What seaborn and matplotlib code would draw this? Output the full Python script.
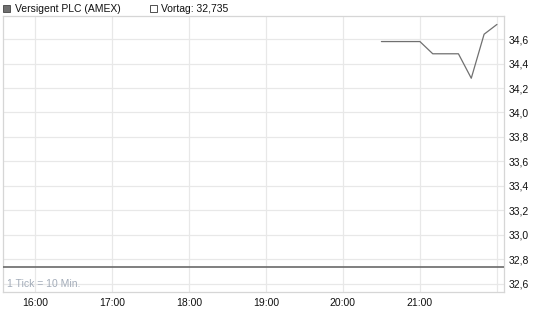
import matplotlib
matplotlib.use("Agg")
import matplotlib.pyplot as plt
import seaborn as sns
import pandas as pd
from matplotlib.patches import Rectangle

# data (minutes after 16:00, 1 tick = 10 min)
minutes = [270, 280, 290, 300, 310, 320, 330, 340, 350, 360]
prices = [34.58, 34.58, 34.58, 34.58, 34.48, 34.48, 34.48, 34.28, 34.64, 34.72]
vortag = 32.735
hour_labels = ["16:00", "17:00", "18:00", "19:00", "20:00", "21:00", ""]
y_ticks = [32.6, 32.8, 33.0, 33.2, 33.4, 33.6, 33.8, 34.0, 34.2, 34.4, 34.6]
series_name = "Versigent PLC (AMEX)"

sns.set_style("white")
plt.rcParams["font.family"] = ["Liberation Sans", "DejaVu Sans"]

fig = plt.figure(figsize=(5.45, 3.27), dpi=100)
ax = fig.add_axes([3 / 545, (327 - 292) / 327, (504 - 3) / 545, (292 - 16) / 327])

df = pd.DataFrame({"t": minutes, "p": prices})
sns.lineplot(data=df, x="t", y="p", ax=ax, color="#707070", linewidth=0.9)
ax.axhline(vortag, color="#6a6a6a", linewidth=1.2, zorder=3)

ax.set_xlim(-24.8, 365.5)
ax.set_ylim(32.532, 34.789)

ax.set_xticks([i * 60 for i in range(7)])
ax.set_xticklabels(hour_labels)
ax.set_yticks(y_ticks)
ax.set_yticklabels([f"{v:.1f}".replace(".", ",") for v in y_ticks])
ax.yaxis.tick_right()
ax.tick_params(axis="both", length=0, labelsize=7.5, colors="#111111")
ax.tick_params(axis="x", pad=4)
ax.tick_params(axis="y", pad=3)
ax.set_xlabel("")
ax.set_ylabel("")

ax.grid(True, color="#e8e8e8", linewidth=0.9)
ax.set_axisbelow(True)
for s in ax.spines.values():
    s.set_color("#d6d6d6")
    s.set_linewidth(0.9)

ax.text(0.008, 0.012, "1 Tick = 10 Min.", transform=ax.transAxes,
        fontsize=7.5, color="#a3acb9", ha="left", va="bottom")

# legend header
fig.patches.append(Rectangle((3 / 545, 1 - 12 / 327), 7 / 545, 7 / 327,
                             transform=fig.transFigure, facecolor="#707070",
                             edgecolor="#444444", linewidth=0.6))
fig.text(15 / 545, 1 - 8.5 / 327, series_name, fontsize=7.5, color="#111111",
         ha="left", va="center")
fig.patches.append(Rectangle((150 / 545, 1 - 12 / 327), 7 / 545, 7 / 327,
                             transform=fig.transFigure, facecolor="white",
                             edgecolor="#333333", linewidth=0.6))
fig.text(161 / 545, 1 - 8.5 / 327, "Vortag: " + f"{vortag:.3f}".replace(".", ","),
         fontsize=7.5, color="#111111", ha="left", va="center")

fig.savefig("out.png", dpi=100)
